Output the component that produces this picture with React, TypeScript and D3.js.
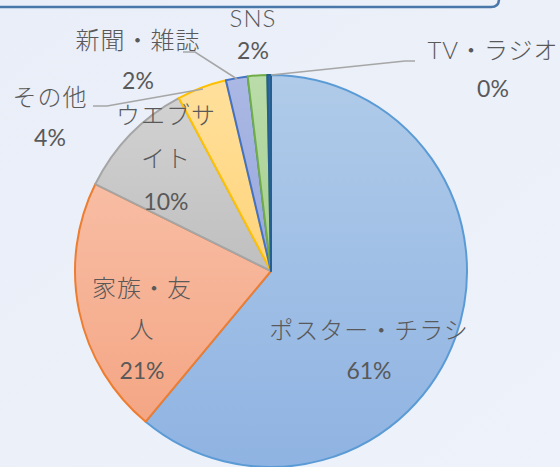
import React from "react";
import * as d3 from "d3";

const categories = ["ポスター・チラシ", "家族・友人", "ウエブサイト", "その他", "新聞・雑誌", "SNS", "TV・ラジオ"];
const values = [61.1, 21.3, 9.9, 4.1, 1.8, 1.6, 0.3];

const fillTop = ["#b0cbe9", "#f8bda4", "#d2d2d2", "#ffe09c", "#abb8e4", "#badcaa", "#2f6aa6"];
const fillBottom = ["#8fb3e2", "#f4a684", "#bfbfbf", "#ffd47a", "#97a8dc", "#a7cf90", "#245b93"];
const strokes = ["#5b9bd5", "#ed7d31", "#a5a5a5", "#ffc000", "#4472c4", "#70ad47", "#255e91"];

// label layout: lines of text (category split as in the picture) + centers
const labelLines = [
  ["ポスター・チラシ"],
  ["家族・友", "人"],
  ["ウエブサ", "イト"],
  ["その他"],
  ["新聞・雑誌"],
  ["SNS"],
  ["TV・ラジオ"],
];
const labelPos: [number, number, number][] = [
  // x, first line center y, line gap
  [369, 330, 40],
  [142, 288, 41],
  [166, 115, 43],
  [50, 97, 40],
  [138, 40, 40],
  [253, 18, 32],
  [493, 50, 38],
];
const leaders: ([number, number][] | null)[] = [
  null,
  null,
  null,
  [[93, 106], [107, 106], [203, 89]],
  [[183, 52], [195, 52], [237, 79]],
  null,
  [[415, 61], [405, 61], [271, 75]],
];

const W = 560;
const H = 467;
const cx = 271;
const cy = 271;
const R = 196;

export default function App() {
  const total = d3.sum(values);
  const pie = d3.pie<number>().sort(null).startAngle(0).endAngle(2 * Math.PI);
  const arcs = pie(values);
  const arcGen = d3.arc<d3.PieArcDatum<number>>().innerRadius(0).outerRadius(R);
  const line = d3.line();
  const font = "Lato, 'Noto Sans CJK JP', sans-serif";

  return (
    <svg
      width={W}
      height={H}
      style={{ position: "fixed", left: 0, top: 0, display: "block" }}
    >
      <defs>
        {values.map((_, i) => (
          <linearGradient key={i} id={`g${i}`} x1="0" y1="0" x2="0" y2="1">
            <stop offset="0" stopColor={fillTop[i]} />
            <stop offset="1" stopColor={fillBottom[i]} />
          </linearGradient>
        ))}
        <linearGradient id="bg" x1="0" y1="0" x2="1" y2="1">
          <stop offset="0" stopColor="#e9eef8" />
          <stop offset="1" stopColor="#eef2fa" />
        </linearGradient>
      </defs>
      <rect x={0} y={0} width={W} height={H} fill="url(#bg)" />
      <path
        d="M -10 7 L 491 7 Q 499 7 499 -1 L 499 -10"
        fill="none"
        stroke="#4a77aa"
        strokeWidth={2.5}
      />
      <g transform={`translate(${cx},${cy})`}>
        {arcs.map((a, i) => (
          <path
            key={i}
            d={arcGen(a) || ""}
            fill={`url(#g${i})`}
            stroke={strokes[i]}
            strokeWidth={2}
            strokeLinejoin="round"
          />
        ))}
      </g>
      {leaders.map((pts, i) =>
        pts ? (
          <path key={i} d={line(pts) || ""} fill="none" stroke="#a6a6a6" strokeWidth={1.5} />
        ) : null
      )}
      {labelLines.map((lines, i) => {
        const [x, y0, gap] = labelPos[i];
        const pct = Math.round((values[i] / total) * 100) + "%";
        const all = [...lines, pct];
        return (
          <g key={i}>
            {all.map((t, j) => (
              <text
                key={j}
                x={x}
                y={y0 + j * gap + 9}
                textAnchor="middle"
                fontFamily={font}
                fontSize={j === all.length - 1 ? 23 : 24}
                fontWeight={j === all.length - 1 ? 400 : 300}
                letterSpacing={j === all.length - 1 ? 0 : 1}
                fill="#595959"
              >
                {t}
              </text>
            ))}
          </g>
        );
      })}
    </svg>
  );
}
